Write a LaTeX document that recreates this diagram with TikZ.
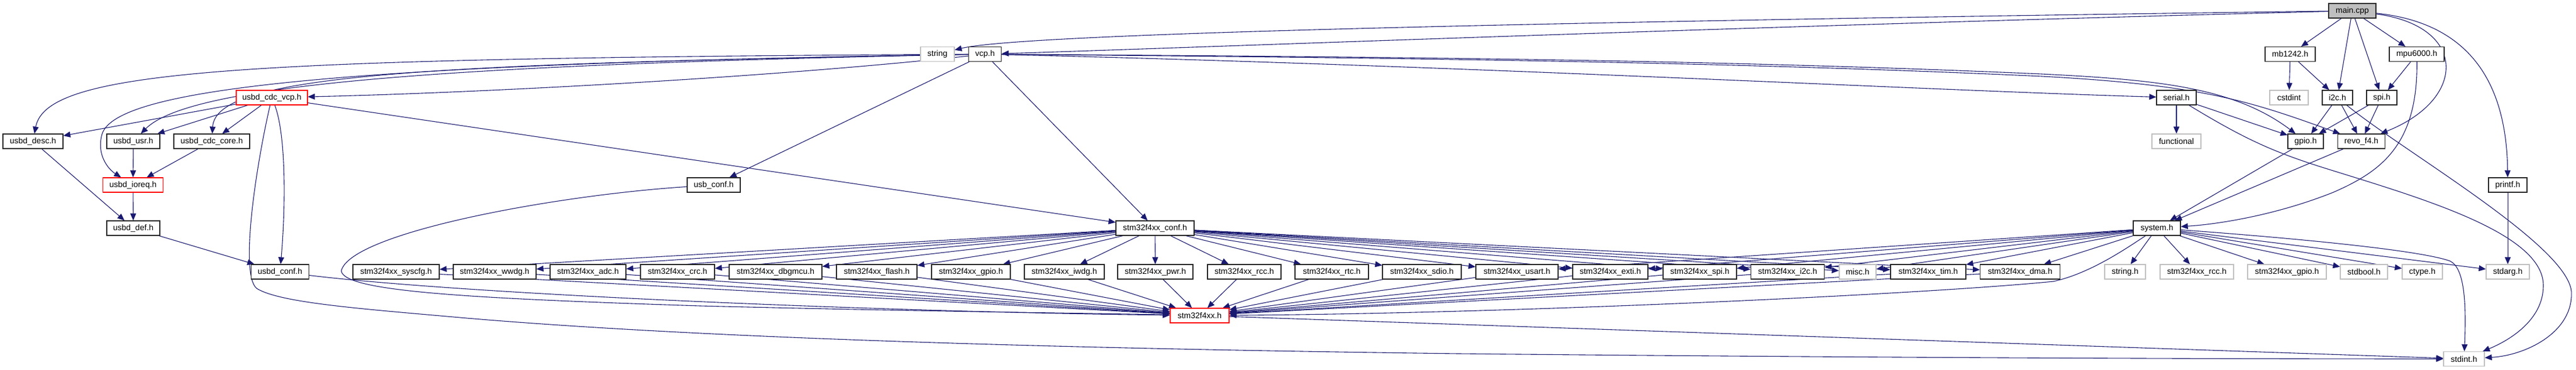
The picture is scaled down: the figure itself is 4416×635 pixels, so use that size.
\documentclass[tikz,border=0pt]{standalone}
\usepackage{fontspec}
\setmainfont{Liberation Sans}
\usetikzlibrary{arrows.meta}
\definecolor{edgec}{HTML}{191970}
\definecolor{extc}{HTML}{BFBFBF}
\pgfdeclarelayer{background}
\pgfsetlayers{background,main}
\begin{document}
\begin{tikzpicture}[x=0.5pt,y=-0.5pt,
  bx/.style={draw=black!85, line width=0.6pt, fill=white, minimum height=12.5pt,
    inner sep=0pt, font=\fontsize{7pt}{8pt}\selectfont, minimum width=#1*0.5pt},
  nb/.style={bx=#1},
  rb/.style={bx=#1, draw=red},
  gb/.style={bx=#1, draw=extc},
  ar/.style={draw=edgec, line width=0.55pt, -{Triangle[length=6pt,width=5pt]}}]
\useasboundingbox (0,0) rectangle (4416,635);
% ---- nodes ----
\node[nb=81, fill=extc] (main) at (4032.5,18.5) {main.cpp};
\node[gb=58] (strg) at (1607,93) {string};
\node[nb=56] (vcp) at (1688.6,93) {vcp.h};
\node[nb=86] (mb) at (3926,93) {mb1242.h};
\node[nb=94] (mpu) at (4143,93) {mpu6000.h};
\node[rb=122] (ucvp) at (466,167.5) {usbd\_cdc\_vcp.h};
\node[nb=68] (serial) at (3731,167.5) {serial.h};
\node[gb=66] (cstd) at (3924,167.5) {cstdint};
\node[nb=52] (i2c) at (4007,167.5) {i2c.h};
\node[nb=52] (spi) at (4083,167.5) {spi.h};
\node[nb=103] (udesc) at (56.5,242.5) {usbd\_desc.h};
\node[nb=91] (uusr) at (228.5,242.5) {usbd\_usr.h};
\node[nb=130] (ucore) at (363,242.5) {usbd\_cdc\_core.h};
\node[gb=84] (func) at (3731,242.5) {functional};
\node[nb=61] (gpio) at (3952.5,242.5) {gpio.h};
\node[nb=81] (revo) at (4048,242.5) {revo\_f4.h};
\node[rb=103.5] (uioreq) at (228,317.5) {usbd\_ioreq.h};
\node[nb=91] (usbconf) at (1223.5,317.5) {usb\_conf.h};
\node[nb=66] (printf) at (4299,317.5) {printf.h};
\node[nb=91] (udef) at (228.5,391.5) {usbd\_def.h};
\node[nb=134] (sconf) at (1980,391.5) {stm32f4xx\_conf.h};
\node[nb=81] (system) at (3697.5,391.5) {system.h};
\node[nb=99] (uconf) at (480,466.5) {usbd\_conf.h};
\node[nb=148] (syscfg) at (679,466.5) {stm32f4xx\_syscfg.h};
\node[nb=142] (wwdg) at (848,466.5) {stm32f4xx\_wwdg.h};
\node[nb=130] (adc) at (1008,466.5) {stm32f4xx\_adc.h};
\node[nb=127] (crc) at (1161.5,466.5) {stm32f4xx\_crc.h};
\node[nb=159] (dbg) at (1329.5,466.5) {stm32f4xx\_dbgmcu.h};
\node[nb=138] (flash) at (1503,466.5) {stm32f4xx\_flash.h};
\node[nb=135] (sgpio) at (1664.5,466.5) {stm32f4xx\_gpio.h};
\node[nb=137] (iwdg) at (1824.5,466.5) {stm32f4xx\_iwdg.h};
\node[nb=129] (pwr) at (1980.5,466.5) {stm32f4xx\_pwr.h};
\node[nb=126] (rcc) at (2133,466.5) {stm32f4xx\_rcc.h};
\node[nb=126] (rtc) at (2283,466.5) {stm32f4xx\_rtc.h};
\node[nb=135] (sdio) at (2437.5,466.5) {stm32f4xx\_sdio.h};
\node[nb=141] (usart) at (2600.5,466.5) {stm32f4xx\_usart.h};
\node[nb=129] (exti) at (2760.5,466.5) {stm32f4xx\_exti.h};
\node[nb=126] (sspi) at (2914,466.5) {stm32f4xx\_spi.h};
\node[nb=126] (si2c) at (3064.5,466.5) {stm32f4xx\_i2c.h};
\node[gb=63] (misc) at (3184.5,466.5) {misc.h};
\node[nb=129] (tim) at (3305.5,466.5) {stm32f4xx\_tim.h};
\node[nb=137] (dma) at (3463,466.5) {stm32f4xx\_dma.h};
\node[gb=70] (strh) at (3643,466.5) {string.h};
\node[gb=126] (rcc2) at (3766,466.5) {stm32f4xx\_rcc.h};
\node[gb=135] (gpio2) at (3920.5,466.5) {stm32f4xx\_gpio.h};
\node[gb=81] (stdbool) at (4052.5,466.5) {stdbool.h};
\node[gb=69] (ctype) at (4152.5,466.5) {ctype.h};
\node[gb=74] (stdarg) at (4299,466.5) {stdarg.h};
\node[rb=101] (stm) at (2056.5,541.5) {stm32f4xx.h};
\node[gb=70] (stdint) at (4224,616) {stdint.h};
% ---- edges ----
\begin{pgfonlayer}{background}
% main.cpp
\draw[ar] (main) .. controls (2600,38) and (1750,58) .. (strg);
\draw[ar] (main) .. controls (3000,45) and (2100,80) .. (vcp);
\draw[ar] (main) -- (mb);
\draw[ar] (main) -- (i2c);
\draw[ar] (main) -- (spi);
\draw[ar] (main) -- (mpu);
\draw[ar] (main) .. controls (4230,45) and (4230,170) .. (revo);
\draw[ar] (main) .. controls (4240,40) and (4297,150) .. (printf);
% vcp.h
\draw[ar] (vcp) .. controls (1300,135) and (800,160) .. (ucvp);
\draw[ar] (vcp) .. controls (400,100) and (80,120) .. (udesc);
\draw[ar] (vcp) .. controls (600,110) and (200,150) .. (175,230) .. controls (165,265) and (185,290) .. (uioreq);
\draw[ar] (vcp) .. controls (700,112) and (320,150) .. (uusr);
\draw[ar] (vcp) .. controls (700,110) and (370,130) .. (ucore);
\draw[ar] (vcp) -- (usbconf);
\draw[ar] (vcp) -- (sconf);
\draw[ar] (vcp) .. controls (2500,112) and (3300,155) .. (serial);
\draw[ar] (vcp) .. controls (2500,98) and (3000,105) .. (3500,127) .. controls (3700,137) and (3830,150) .. (gpio);
\draw[ar] (vcp) .. controls (2500,100) and (3000,108) .. (3500,131) .. controls (3780,146) and (3860,175) .. (revo);
% usbd_cdc_vcp.h
\draw[ar] (ucvp) -- (udesc);
\draw[ar] (ucvp) -- (uusr);
\draw[ar] (ucvp) -- (ucore);
\draw[ar] (ucvp) .. controls (490,230) and (490,350) .. (uconf);
\draw[ar] (ucvp) .. controls (440,280) and (410,470) .. (440,495) .. controls (480,520) and (620,530) .. (800,546) .. controls (1200,580) and (1800,598) .. (2500,607) .. controls (3200,614) and (3800,616) .. (stdint);
\draw[ar] (ucvp) -- (sconf);
% usbd chain
\draw[ar] (udesc) -- (udef);
\draw[ar] (uusr) -- (uioreq);
\draw[ar] (ucore) -- (uioreq);
\draw[ar] (uioreq) -- (udef);
\draw[ar] (udef) -- (uconf);
\draw[ar] (uconf) .. controls (800,505) and (1500,535) .. (stm);
\draw[ar] (usbconf) .. controls (950,335) and (600,400) .. (585,465) .. controls (590,500) and (800,512) .. (1200,525) .. controls (1600,535) and (1900,538) .. (stm);
% stm32f4xx_conf.h
\foreach \n in {syscfg,wwdg,adc,crc,dbg,flash,sgpio,iwdg,pwr,rcc,rtc,sdio,usart,exti,sspi,si2c,misc,tim,dma}
  \draw[ar] (sconf) -- (\n);
\foreach \n in {syscfg,wwdg,adc,crc,dbg,flash,sgpio,iwdg,pwr,rcc,rtc,sdio,usart,exti,sspi,si2c,tim,dma}
  \draw[ar] (\n) -- (stm);
\draw[ar] (stm) -- (stdint);
% system.h
\foreach \n in {usart,exti,sspi,si2c,misc,tim,dma,strh,rcc2,gpio2,stdbool,ctype,stdarg}
  \draw[ar] (system) -- (\n);
\draw[ar] (system) .. controls (3640,430) and (3580,470) .. (3520,483) .. controls (3300,505) and (2600,538) .. (stm);
\draw[ar] (system) .. controls (3950,410) and (4150,430) .. (4200,448) .. controls (4225,460) and (4228,520) .. (stdint);
% right cluster
\draw[ar] (mb) -- (cstd);
\draw[ar] (mb) -- (i2c);
\draw[ar] (mpu) -- (spi);
\draw[ar] (mpu) .. controls (4145,250) and (4080,295) .. (4000,330) .. controls (3900,370) and (3800,385) .. (system);
\draw[ar] (serial) -- (func);
\draw[ar] (serial) -- (gpio);
\draw[ar] (serial) .. controls (3850,240) and (3900,262) .. (3990,290) .. controls (4150,340) and (4360,400) .. (4360,490) .. controls (4360,550) and (4300,585) .. (stdint);
\draw[ar] (i2c) -- (gpio);
\draw[ar] (i2c) -- (revo);
\draw[ar] (i2c) .. controls (4120,260) and (4400,420) .. (4408,500) .. controls (4412,570) and (4330,610) .. (stdint);
\draw[ar] (spi) -- (gpio);
\draw[ar] (spi) -- (revo);
\draw[ar] (gpio) -- (system);
\draw[ar] (revo) -- (system);
\draw[ar] (printf) -- (stdarg);
\end{pgfonlayer}
\end{tikzpicture}
\end{document}
